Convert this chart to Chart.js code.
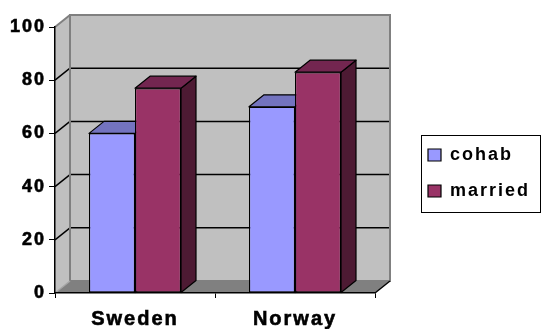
<!DOCTYPE html>
<html>
<head>
<meta charset="utf-8">
<script src="https://cdn.jsdelivr.net/npm/chart.js@4.4.0/dist/chart.umd.min.js"></script>
<style>
  html, body { margin: 0; padding: 0; background: #fff; }
  canvas { display: block; }
</style>
</head>
<body>
<canvas id="chart" width="541" height="329"></canvas>
<script>
// data
const categories = ['Sweden', 'Norway'];
const cohab = [60, 70];
const married = [77, 83];
const yTicks = [0, 20, 40, 60, 80, 100];

// depth of the fake 3D box (pixels)
const DX = 15;
const DY = -12;

const FONT = '"Liberation Sans", Arial, sans-serif';

// legend frame
const LEGEND_BOX = { x: 421, y: 135, w: 119, h: 77 };

function poly(ctx, pts) {
    ctx.beginPath();
    ctx.moveTo(pts[0][0], pts[0][1]);
    for (let i = 1; i < pts.length; i++) ctx.lineTo(pts[i][0], pts[i][1]);
    ctx.closePath();
}

function line(ctx, x1, y1, x2, y2) {
    ctx.beginPath();
    ctx.moveTo(x1, y1);
    ctx.lineTo(x2, y2);
    ctx.stroke();
}

// walls, floor and grid lines, plus the top/side faces of the bars
const box3d = {
    id: 'box3d',
    afterLayout(chart) {
        // move the legend to the right of the plot
        const lg = chart.legend;
        lg.left = LEGEND_BOX.x - 11;
        lg.top = LEGEND_BOX.y - 7;
        lg.right = chart.width;
        lg.bottom = chart.height;
        lg.width = lg.right - lg.left;
        lg.height = lg.bottom - lg.top;
    },
    beforeDraw(chart) {
        const ctx = chart.ctx;
        ctx.letterSpacing = '2px';
        const { left, right, top, bottom } = chart.chartArea;
        const y = chart.scales.y;
        ctx.save();

        // side wall
        ctx.fillStyle = '#c0c0c0';
        poly(ctx, [[left, top], [left + DX, top + DY], [left + DX, bottom + DY], [left, bottom]]);
        ctx.fill();
        // back wall
        ctx.fillRect(left + DX, top + DY, right - left, bottom - top);
        // floor
        ctx.fillStyle = '#808080';
        poly(ctx, [[left, bottom], [right, bottom], [right + DX, bottom + DY], [left + DX, bottom + DY]]);
        ctx.fill();

        // grid lines on the back wall and the side wall
        ctx.strokeStyle = '#000';
        ctx.lineWidth = 1.5;
        yTicks.slice(1, -1).forEach(v => {
            const py = y.getPixelForValue(v);
            line(ctx, left + DX, py + DY, right + DX, py + DY);
            line(ctx, left, py, left + DX, py + DY);
        });

        // grey edges of the box
        ctx.strokeStyle = '#808080';
        ctx.lineWidth = 2;
        ctx.strokeRect(left + DX, top + DY, right - left, bottom - top);
        line(ctx, left, top, left + DX, top + DY);
        ctx.strokeStyle = '#a6a6a6';
        ctx.lineWidth = 1.5;
        line(ctx, left, bottom, left + DX, bottom + DY);

        // right floor edge
        ctx.strokeStyle = '#000';
        ctx.lineWidth = 1.5;
        line(ctx, right, bottom, right + DX, bottom + DY);
        ctx.restore();
    },
    beforeDatasetsDraw(chart) {
        const ctx = chart.ctx;
        ctx.save();
        ctx.strokeStyle = '#000';
        ctx.lineWidth = 1.2;
        ctx.lineJoin = 'round';
        chart.data.datasets.forEach((ds, i) => {
            const meta = chart.getDatasetMeta(i);
            meta.data.forEach(bar => {
                const l = bar.x - bar.width / 2;
                const r = bar.x + bar.width / 2;
                const t = bar.y;
                const b = bar.base;
                // side face
                ctx.fillStyle = ds.sideColor;
                poly(ctx, [[r, t], [r + DX, t + DY], [r + DX, b + DY], [r, b]]);
                ctx.fill();
                ctx.stroke();
                // top face
                ctx.fillStyle = ds.topColor;
                poly(ctx, [[l, t], [r, t], [r + DX, t + DY], [l + DX, t + DY]]);
                ctx.fill();
                ctx.stroke();
            });
        });
        ctx.restore();
    },
    afterDraw(chart) {
        const ctx = chart.ctx;
        ctx.save();
        ctx.strokeStyle = '#000';
        ctx.lineWidth = 1;
        ctx.strokeRect(LEGEND_BOX.x + 0.5, LEGEND_BOX.y + 0.5, LEGEND_BOX.w, LEGEND_BOX.h);
        ctx.restore();
    }
};

new Chart(document.getElementById('chart'), {
    type: 'bar',
    data: {
        labels: categories,
        datasets: [{
            label: 'cohab',
            data: cohab,
            backgroundColor: '#9999FF',
            topColor: '#7373BF',
            sideColor: '#4D4D80',
            borderColor: '#000',
            borderWidth: 1.2,
            borderSkipped: false,
            categoryPercentage: 0.575,
            barPercentage: 1
        }, {
            label: 'married',
            data: married,
            backgroundColor: '#993366',
            topColor: '#732650',
            sideColor: '#4D1A33',
            borderColor: '#000',
            borderWidth: 1.2,
            borderSkipped: false,
            categoryPercentage: 0.575,
            barPercentage: 1
        }]
    },
    options: {
        responsive: false,
        animation: false,
        devicePixelRatio: 1,
        layout: {
            padding: { top: 27, right: 166, bottom: 0, left: 0 }
        },
        scales: {
            x: {
                grid: {
                    drawOnChartArea: false,
                    drawTicks: true,
                    tickLength: 5,
                    color: '#000',
                    offset: true
                },
                border: { color: '#000', width: 1.5 },
                ticks: {
                    color: '#000',
                    padding: 9,
                    textStrokeColor: '#000',
                    textStrokeWidth: 0.6,
                    font: { family: FONT, size: 20, weight: 'bold' }
                },
                afterFit: s => { s.height = 36; }
            },
            y: {
                min: 0,
                max: 100,
                afterBuildTicks: s => { s.ticks = yTicks.map(v => ({ value: v })); },
                grid: {
                    drawOnChartArea: false,
                    drawTicks: true,
                    tickLength: 6,
                    color: '#000'
                },
                border: { color: '#000', width: 1.5 },
                ticks: {
                    color: '#000',
                    padding: 3,
                    textStrokeColor: '#000',
                    textStrokeWidth: 0.6,
                    font: { family: FONT, size: 18, weight: 'bold' }
                },
                afterFit: s => { s.width = 55; }
            }
        },
        plugins: {
            legend: {
                position: 'chartArea',
                align: 'start',
                labels: {
                    color: '#000',
                    boxWidth: 13,
                    boxHeight: 12,
                    padding: 18,
                    font: { family: FONT, size: 18, weight: 'bold' }
                }
            },
            tooltip: { enabled: false }
        }
    },
    plugins: [box3d]
});
</script>
</body>
</html>
